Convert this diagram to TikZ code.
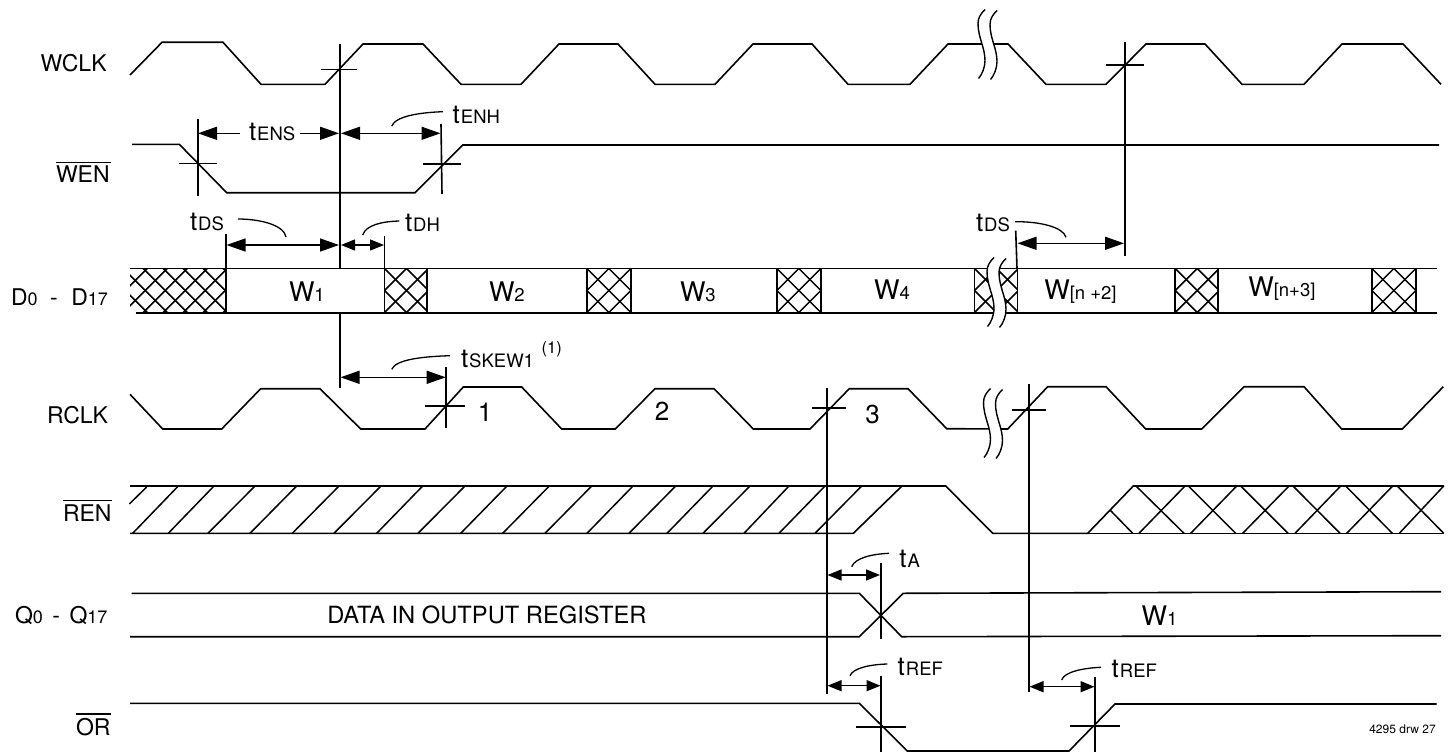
\documentclass[tikz,border=0pt]{standalone}
\usepackage{fontspec}
\setmainfont{TeX Gyre Heros}
\usetikzlibrary{arrows.meta}
\newcommand{\Ls}[1]{{\fontsize{23}{23}\selectfont #1}}
\newcommand{\Ss}[1]{{\fontsize{18}{18}\selectfont #1}}
\newcommand{\Tm}[1]{{\fontsize{26}{26}\selectfont t}\kern1pt{\fontsize{18.5}{18.5}\selectfont #1}}
\newcommand{\Wd}[1]{{\fontsize{27}{27}\selectfont W}{\fontsize{18.5}{18.5}\selectfont #1}}
\newcommand{\hatchX}[4]{%
  \begin{scope}
    \clip (#1,268.3) rectangle (#2,312.7);
    \foreach \k in {-3,...,8}{
      \draw[hatchline] ({#3+#4*\k},312.7) -- ({#3+#4*\k+44.4},268.3);
      \draw[hatchline] ({#3+#4*\k},268.3) -- ({#3+#4*\k+44.4},312.7);
    }
  \end{scope}}
\newcommand{\breakmark}[2]{%
  \begin{scope}[shift={(#1,#2)}]
    \draw[white,line width=11pt,line cap=butt] (13,1) .. controls (9,5) and (6,9) .. (6,15) .. controls (6,29) and (13,39) .. (13,52) .. controls (13,59) and (10,66) .. (6.5,70);
    \draw[brk] (7,0) .. controls (3,4) and (0,8) .. (0,14) .. controls (0,28) and (7,38) .. (7,51) .. controls (7,58) and (4,65) .. (0.5,69);
    \draw[brk] (19,1) .. controls (15,5) and (12,9) .. (12,15) .. controls (12,29) and (19,39) .. (19,52) .. controls (19,59) and (16,66) .. (12.5,70);
  \end{scope}}
\tikzset{
  sig/.style={line width=1.6pt,line join=miter,black},
  tick/.style={line width=1.6pt,black},
  hatchline/.style={line width=1.5pt,black},
  brk/.style={line width=1.4pt,black},
  lead/.style={line width=1.3pt,black},
  over/.style={line width=1.1pt,black},
  dimlong/.style={line width=1.4pt,{Triangle[length=19pt,width=13pt]}-{Triangle[length=19pt,width=13pt]}},
  dimshort/.style={line width=1.4pt,{Triangle[length=14pt,width=11pt]}-{Triangle[length=14pt,width=11pt]}},
  lbl/.style={anchor=base west,inner sep=0pt,outer sep=0pt,text=black}
}
\begin{document}
\begin{tikzpicture}[x=1pt,y=-1pt]
\useasboundingbox[fill=white] (0,0) rectangle (1450,752);

% ---- WCLK
\draw[sig] (130,75) -- (162,42.3) -- (223,42.3) -- (261,84.3) -- (325,84.3) -- (363,44) -- (423,44) -- (461,84.3) -- (521,84.3) -- (559,44) -- (618,44) -- (655,84.3) -- (715,84.3) -- (753,44) -- (812,44) -- (848,84.3) -- (910,84.3) -- (948,44) -- (1008,44) -- (1046,84.3) -- (1106,84.3) -- (1146,44) -- (1205,44) -- (1242,84.3) -- (1304,84.3) -- (1342,44) -- (1403,44) -- (1441,84.3);
\breakmark{978}{9.5}

% ---- WEN
\draw[sig] (132,144.3) -- (179.3,144.3) -- (226.7,192.7) -- (415,192.7) -- (462.7,145) -- (1439,145);

% ---- D bus
\hatchX{130}{226}{123}{20}
\hatchX{384.3}{426.7}{384.3}{22}
\hatchX{586.7}{630.7}{586.7}{22}
\hatchX{776.7}{820.7}{776.7}{22}
\hatchX{974.3}{1017.3}{974.3}{22}
\hatchX{1175}{1217.7}{1175}{22}
\hatchX{1371.7}{1415.7}{1371.7}{22}
\draw[sig] (130,268.3) -- (1437,268.3);
\draw[sig] (135.7,312.7) -- (1437,312.7);
\foreach \xx in {226,384.3,426.7,586.7,630.7,776.7,820.7,974.3,1017.3,1175,1217.7,1371.7,1415.7}
  \draw[tick] (\xx,268.3) -- (\xx,312.7);
\breakmark{987}{257.5}

% ---- RCLK
\draw[sig] (130,394.3) -- (162.7,429) -- (221.7,429) -- (260.7,388.7) -- (320,388.7) -- (360.7,429) -- (425,429) -- (463.3,387) -- (521.7,387) -- (561.7,429) -- (615.3,429) -- (655,388.7) -- (714,388.7) -- (753.3,429) -- (810,429) -- (849.3,388.7) -- (908,388.7) -- (946.7,428.7) -- (1007.7,429) -- (1047.7,386.7) -- (1106,386.7) -- (1145.7,429) -- (1201.7,429) -- (1244,386.7) -- (1304,386.7) -- (1341.7,429) -- (1402.3,429) -- (1443.3,386.7);
\breakmark{983.5}{388.5}

% ---- REN
\draw[sig] (130,486) -- (945.7,486) -- (992.7,533.3) -- (1087.7,533.3) -- (1133.3,486) -- (1444,486);
\draw[sig] (130,533.3) -- (853.3,533.3) -- (902,486);
\draw[sig] (1087.7,533.3) -- (1444,533.3);
\foreach \xa/\xb in {132.7/178.3,168.3/214,208/255,250/296.7,292.3/339,334/381,376.7/422.7,418/465,460.7/507,502.7/549.3,545/591.7,587/633,629/675.7,667/713,703/750,744/789,779/825,815/861.7}
  \draw[hatchline] (\xa,533.3) -- (\xb,486);
\draw[hatchline] (129.3,504) -- (146.7,487);
\foreach \xa/\xb in {1139/1185,1190.7/1236.7,1242.7/1289,1295/1340.7,1346.7/1392.7,1399.3/1443.7}
  \draw[hatchline] (\xa,533.3) -- (\xb,486);
\draw[hatchline] (1110,510) -- (1132.7,533.3);
\foreach \xa/\xb in {1136/1184,1188.3/1235.7,1240.7/1288,1293/1340,1345.7/1392.3,1397.3/1443.7}
  \draw[hatchline] (\xa,486) -- (\xb,533.3);

% ---- Q
\draw[sig] (131.7,593.3) -- (859.3,593.3) -- (901.7,636.7) -- (1441,635.7);
\draw[sig] (130,636.7) -- (859.3,636.7) -- (903.3,593.3) -- (1441,591.7);

% ---- OR
\draw[sig] (130,703.3) -- (859.3,703.3) -- (907.3,751) -- (1069,751) -- (1115,704) -- (1436.7,704);

% ---- verticals and crossbars
\draw[tick] (340,44) -- (340,268);
\draw[tick] (340,313) -- (340,388);
\draw[tick] (321,69.3) -- (357,69.3);
\draw[tick] (1125,42) -- (1125,256);
\draw[tick] (1106,65) -- (1144,65);
\draw[tick] (197.7,119) -- (197.7,195.7);
\draw[tick] (179,163.3) -- (216.7,163.3);
\draw[tick] (441,124) -- (442,194);
\draw[tick] (423,163.7) -- (461,163.7);
\draw[tick] (226,234) -- (226,268);
\draw[tick] (384.3,235.7) -- (384.3,268);
\draw[tick] (1015.7,230.7) -- (1017,268);
\draw[tick] (446,366.7) -- (446,428);
\draw[tick] (425,406) -- (465,406);
\draw[tick] (826.7,388) -- (826.7,694);
\draw[tick] (811.7,408) -- (845.7,408);
\draw[tick] (1029,384) -- (1029,692);
\draw[tick] (1012,410) -- (1045.7,410);
\draw[tick] (880.7,563.3) -- (880.7,639);
\draw[tick] (881,676) -- (881,752);
\draw[tick] (855.7,726.7) -- (905.7,726.7);
\draw[tick] (1095,677.3) -- (1095,752);
\draw[tick] (1070,726) -- (1120,726);

% ---- dimension arrows
\draw[line width=1.4pt,{Triangle[length=19pt,width=13pt]}-] (198,133.3) -- (240,133.3);
\draw[line width=1.4pt,-{Triangle[length=19pt,width=13pt]}] (300,133.3) -- (339,133.3);
\draw[dimlong] (341,133.3) -- (440.5,133.3);
\draw[dimlong] (226.5,245) -- (339,245);
\draw[dimshort] (341,245) -- (384,245);
\draw[dimlong] (1017.5,243.3) -- (1124,243.3);
\draw[dimlong] (340.5,377.3) -- (445.7,377.3);
\draw[dimshort] (827.5,575) -- (880,575);
\draw[dimshort] (827.5,685.7) -- (880.5,685.7);
\draw[dimshort] (1029.5,686.7) -- (1094.5,686.7);

% ---- leader curves
\draw[lead] (391.7,126) .. controls (396,116) and (420,112.5) .. (443,111.7);
\draw[lead] (238,219) .. controls (260,219) and (284,225) .. (286,237);
\draw[lead] (362.7,235) .. controls (366,225) and (382,221.5) .. (399.3,221);
\draw[lead] (1015,221.7) .. controls (1040,221.5) and (1063,227) .. (1066,237.3);
\draw[lead] (391.7,369.3) .. controls (396,359) and (425,356.5) .. (450,355.7);
\draw[lead] (851.7,566.7) .. controls (855,558) and (872,554) .. (889,553.3);
\draw[lead] (850,675.7) .. controls (853,668) and (870,664.5) .. (887.3,664);
\draw[lead] (1061.7,680) .. controls (1064,672) and (1083,668) .. (1101,667.3);

% ---- signal labels
\node[lbl] (lwclk) at (40.7,71.7) {\Ls{WCLK}};
\node[lbl] (lwen) at (56,182.7) {\Ls{WEN}};
\draw[over] (56,162.7) -- (110.7,162.7);
\node[lbl] (ld) at (11,305) {\Ls{D}\Ss{0}\hspace*{12.5pt}\Ls{-}\hspace*{13.5pt}\Ls{D}\Ss{17}};
\node[lbl] (lrclk) at (47,423) {\Ls{RCLK}};
\node[lbl] (lren) at (63,521) {\Ls{REN}};
\draw[over] (62.5,500.3) -- (111.5,500.3);
\node[lbl] (lq) at (15,623) {\Ls{Q}\Ss{0}\hspace*{9.5pt}\Ls{-}\hspace*{9.5pt}\Ls{Q}\Ss{17}};
\node[lbl] (lor) at (76,735) {\Ls{OR}};
\draw[over] (76,714) -- (111,714);

% ---- timing labels
\node[lbl] (tens) at (249,140) {\Tm{ENS}};
\node[lbl] (tenh) at (452.7,123) {\Tm{ENH}};
\node[lbl] (tds) at (190,230) {\Tm{DS}};
\node[lbl] (tdh) at (405,231.7) {\Tm{DH}};
\node[lbl] (tdsb) at (976,231.7) {\Tm{DS}};
\node[lbl] (tskew) at (461,367.7) {\Tm{SKEW1}};
\node[lbl] (note) at (541.7,353) {\fontsize{16.5}{16.5}\selectfont (1)};
\node[lbl] (ta) at (899.3,567.7) {\Tm{A}};
\node[lbl] (trefa) at (897.7,675.7) {\Tm{REF}};
\node[lbl] (trefb) at (1111.7,677.7) {\Tm{REF}};

% ---- pulse numbers
\node[lbl,anchor=base] (n1) at (485,421) {\fontsize{26}{26}\selectfont 1};
\node[lbl,anchor=base] (n2) at (662,420) {\fontsize{26}{26}\selectfont 2};
\node[lbl,anchor=base] (n3) at (872.7,423) {\fontsize{26}{26}\selectfont 3};

% ---- data labels
\node[lbl] (w1) at (289,301.7) {\Wd{1}};
\node[lbl] (w2) at (489,301.7) {\Wd{2}};
\node[lbl] (w3) at (680,301.7) {\Wd{3}};
\node[lbl] (w4) at (874,299.3) {\Wd{4}};
\node[lbl] (wn2) at (1044.3,299.3) {\Wd{[n +2]}};
\node[lbl] (wn3) at (1248.3,296.7) {\Wd{[n+3]}};
\node[lbl] (wq) at (1141.7,625) {\Wd{1}};
\node[lbl] (dataq) at (327.3,623) {\fontsize{23.7}{23.7}\selectfont DATA IN OUTPUT REGISTER};
\node[lbl] (drw) at (1369.3,733) {\fontsize{12}{12}\selectfont 4295 drw 27};
\end{tikzpicture}
\end{document}
